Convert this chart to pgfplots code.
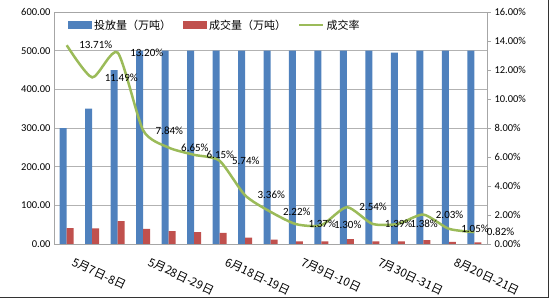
\documentclass[border=0pt]{standalone}
\usepackage{pgfplots}
\pgfplotsset{compat=1.18}
\usepackage{fontspec}
\setmainfont{Carlito}
\newfontfamily\cjk{Noto Sans CJK SC}
\definecolor{exblue}{HTML}{4F81BD}
\definecolor{exred}{HTML}{C0504D}
\definecolor{exgreen}{HTML}{9BBB59}
\pgfplotsset{/pgf/number format/assume math mode=true}
\begin{document}
\begin{tikzpicture}[x=1pt,y=1pt]
\useasboundingbox (0,0) rectangle (550,300);
\begin{axis}[
  at={(54pt,56pt)}, anchor=south west,
  scale only axis, width=433pt, height=232pt,
  xmin=-0.5, xmax=16.5, ymin=0, ymax=600,
  ybar=0pt, bar width=7pt,
  ytick={0,100,...,600},
  yticklabel={\pgfmathprintnumber[fixed,zerofill,precision=2]{\tick}},
  xtick={0,3,6,9,12,15},
  xticklabels={5月7日-8日,5月28日-29日,6月18日-19日,7月9日-10日,7月30日-31日,8月20日-21日},
  x tick label style={font=\cjk\fontsize{11.5}{12}\selectfont, rotate=-25, anchor=north west, xshift=12pt, yshift=-7pt, inner sep=1pt},
  y tick label style={font=\fontsize{10.5}{12}\selectfont},
  major tick length=0pt,
  ymajorgrids, grid style={gray!60, line width=0.6pt},
  axis line style={gray!70, line width=0.6pt},
  axis y line*=left, axis x line*=bottom,
  legend style={at={(0.025,0.985)}, anchor=north west, draw=none, fill=none,
    legend columns=-1, font=\cjk\fontsize{11}{13}\selectfont,
    /tikz/every even column/.append style={column sep=10pt}},
  legend image code/.code={\fill[#1] (0pt,-3.5pt) rectangle (24pt,4pt);},
]
\addplot[fill=exblue, draw=none] coordinates {
 (0,300) (1,350) (2,450) (3,500) (4,500) (5,500) (6,500) (7,500) (8,500)
 (9,500) (10,500) (11,500) (12,500) (13,495) (14,500) (15,500) (16,500)};
\addlegendentry{投放量（万吨）}
\addplot[fill=exred, draw=none] coordinates {
 (0,41.1) (1,40.2) (2,59.4) (3,39.2) (4,33.3) (5,30.8) (6,28.7) (7,16.8) (8,11.1)
 (9,6.9) (10,6.5) (11,12.7) (12,7.0) (13,6.8) (14,10.2) (15,5.3) (16,4.1)};
\addlegendentry{成交量（万吨）}
\addlegendimage{legend image code/.code={\draw[exgreen, line width=2.5pt] (0pt,0pt) -- (24pt,0pt);}}
\addlegendentry{成交率}
\draw[gray!70, line width=0.6pt] (rel axis cs:0,1) -- (rel axis cs:1,1);
\end{axis}
\begin{axis}[
  at={(54pt,56pt)}, anchor=south west,
  scale only axis, width=433pt, height=232pt,
  xmin=-0.5, xmax=16.5, ymin=0, ymax=16,
  hide x axis,
  axis y line*=right,
  ytick={0,2,...,16},
  yticklabel={\pgfmathprintnumber[fixed,zerofill,precision=2]{\tick}\%},
  y tick label style={font=\fontsize{10.5}{12}\selectfont},
  major tick length=4pt, tick align=outside,
  tick style={gray!70, line width=0.6pt},
  axis line style={gray!70, line width=0.6pt},
  nodes near coords={\pgfmathprintnumber[fixed,zerofill,precision=2]{\pgfplotspointmeta}\%},
  every node near coord/.append style={font=\fontsize{11}{12}\selectfont, anchor=west, xshift=8pt, black},
]
\addplot[exgreen, line width=2.5pt, smooth, tension=0.4, mark=none] coordinates {
 (0,13.71) (1,11.49) (2,13.20) (3,7.84) (4,6.65) (5,6.15) (6,5.74) (7,3.36) (8,2.22)
 (9,1.37) (10,1.30) (11,2.54) (12,1.39) (13,1.38) (14,2.03) (15,1.05) (16,0.82)};
\end{axis}
\draw[black!80, line width=1pt] (0,2.5) -- (548.5,2.5) -- (548.5,300);
\end{tikzpicture}
\end{document}
